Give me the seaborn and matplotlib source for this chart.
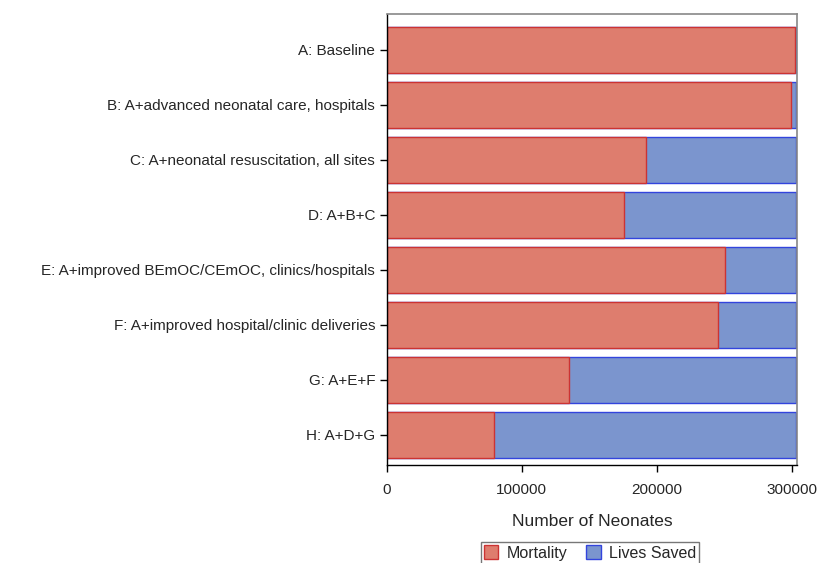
import pandas as pd
import numpy as np
import matplotlib.pyplot as plt
import seaborn as sns
from matplotlib.patches import Patch

# data
scenarios = [
    "A: Baseline",
    "B: A+advanced neonatal care, hospitals",
    "C: A+neonatal resuscitation, all sites",
    "D: A+B+C",
    "E: A+improved BEmOC/CEmOC, clinics/hospitals",
    "F: A+improved hospital/clinic deliveries",
    "G: A+E+F",
    "H: A+D+G",
]
mortality = [302500, 299800, 191900, 175600, 250400, 245200, 134800, 79300]
total = [303500, 303500, 303500, 303500, 303500, 303500, 303500, 303500]

data = pd.DataFrame({"scenario": scenarios, "mortality": mortality, "total": total})

sns.set_style("white")
plt.rcParams["font.family"] = ["Liberation Sans", "DejaVu Sans"]

red = "#DE7D6E"
blue = "#7B95CE"

fig = plt.figure(figsize=(8.22, 5.63), dpi=100)
ax = fig.add_axes([387 / 822, 1 - 465 / 563, 410 / 822, 451 / 563])

# lives saved = total - mortality, drawn as the full bar underneath
sns.barplot(data=data, x="total", y="scenario", color=blue, saturation=1,
            width=0.84, edgecolor="#3344DD", linewidth=1, ax=ax)
sns.barplot(data=data, x="mortality", y="scenario", color=red, saturation=1,
            width=0.84, edgecolor="#CC3333", linewidth=1, ax=ax)

ax.set_xlim(0, 304000)
ax.set_ylim(7.55, -0.65)
ax.set_xticks([0, 100000, 200000, 300000])
ax.set_xticklabels(["0", "100000", "200000", "300000"])
ax.set_xlabel("Number of Neonates", fontsize=12.5, labelpad=12)
ax.set_ylabel("")
ax.tick_params(axis="both", labelsize=11, length=5, width=1, color="black",
               direction="out", bottom=True, left=True)
ax.tick_params(axis="x", pad=8)

for s in ["left", "bottom"]:
    ax.spines[s].set_color("black")
    ax.spines[s].set_linewidth(1)
for s in ["top", "right"]:
    ax.spines[s].set_color("#888888")
    ax.spines[s].set_linewidth(1.2)

handles = [Patch(facecolor=red, edgecolor="#CC3333", label="Mortality"),
           Patch(facecolor=blue, edgecolor="#3344DD", label="Lives Saved")]
fig.legend(handles=handles, loc="center", bbox_to_anchor=(590 / 822, 1 - 553 / 563),
           ncol=2, fontsize=11.5, frameon=True, fancybox=False, edgecolor="#555555",
           handlelength=0.9, handleheight=0.9, handletextpad=0.5, columnspacing=1.2,
           borderpad=0.2)

fig.savefig("out.png", dpi=100)
